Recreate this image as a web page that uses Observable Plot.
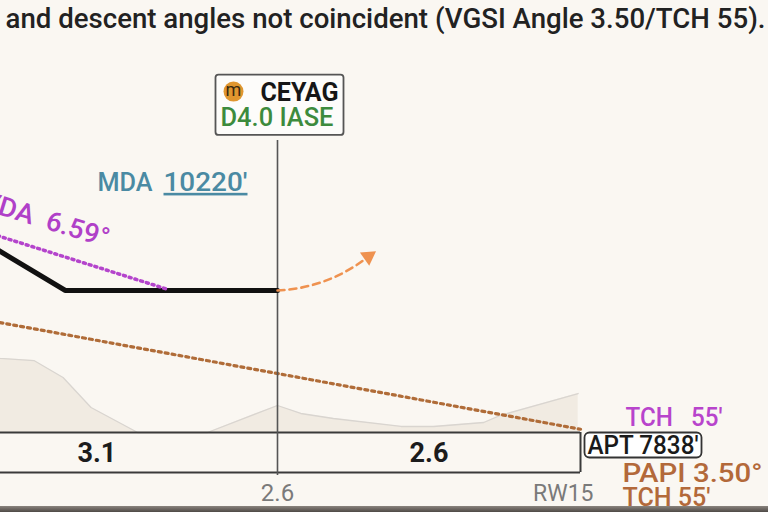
<!DOCTYPE html>
<html><head><meta charset="utf-8">
<script src="https://cdn.jsdelivr.net/npm/d3@7"></script>
<script src="https://cdn.jsdelivr.net/npm/@observablehq/plot@0.6"></script>
<style>
html,body{margin:0;padding:0;background:#faf7f2;overflow:hidden}
svg{display:block}
#band{height:6px;background:linear-gradient(#8a847e,#4f4a46)}
</style></head><body><div id="chart"></div><div id="band"></div>
<script>
// ---- data (distances in NM from runway threshold, altitudes in ft) ----
const titleText = "and descent angles not coincident (VGSI Angle 3.50/TCH 55).";
const descentDist = [5.0, 4.42, 2.6];
const descentAlt  = [10900, 10220, 10220];
const vdaDist = [5.1, 3.56];
const vdaAlt  = [11200, 10250];
const papiDist = [5.1, 0];
const papiAlt  = [9725, 7893];
const terrainDist = [5.1, 4.98, 4.69, 4.44, 4.20, 3.80, 3.20, 2.60, 2.40, 2.12, 1.54, 1.26, 0.83, 0.69, 0.02];
const terrainAlt  = [9100, 9080, 9045, 8760, 8257, 7838, 7838, 8291, 8157, 8073, 7939, 7939, 8006, 8123, 8492];
const segFrom = [5.7, 2.6];
const segTo   = [2.6, 0];
const segLabels = ["3.1", "2.6"];
const fixName = "CEYAG";
const fixDist = 2.6;
const fixTopAlt = 12735;
const fixDme = "D4.0 IASE";
const fixLabel = "2.6";
const mda = 10220;
const vdaAngle = "6.59°";
const aptElev = 7838;
const tch = 55;
const papiAngle = "3.50°";
const runwayName = "RW15";
const missedDist = [2.6, 1.82];
const missedAlt  = [10220, 10790];

const font = "Roboto, 'Open Sans', sans-serif";
const nb = "\u00a0";

const descent = descentDist.map((d, i) => ({d, alt: descentAlt[i]}));
const vda = vdaDist.map((d, i) => ({d, alt: vdaAlt[i]}));
const papi = papiDist.map((d, i) => ({d, alt: papiAlt[i]}));
const terrain = terrainDist.map((d, i) => ({d, alt: terrainAlt[i]}));
const segs = segLabels.map((label, i) => ({label, mid: (segFrom[i] + segTo[i]) / 2}));
const missed = [{x1: missedDist[0], y1: missedAlt[0], x2: missedDist[1], y2: missedAlt[1]}];

const vdaText = "VDA" + nb + nb + vdaAngle;
const mdaText = mda + "'";
const tchPurple = "TCH" + nb + nb + nb + tch + "'";
const aptText = "APT " + aptElev + "'";
const papiText = "PAPI " + papiAngle;
const tchBrown = "TCH " + tch + "'";

const vdaLabelD = 4.59;
const vdaLabelAlt = vdaAlt[0] + (vdaLabelD - vdaDist[0]) / (vdaDist[1] - vdaDist[0]) * (vdaAlt[1] - vdaAlt[0]);

const chart = Plot.plot({
  width: 768, height: 506,
  marginTop: 0, marginRight: 0, marginBottom: 0, marginLeft: 0,
  x: {domain: [2.6, 0], range: [277, 580], axis: null},
  y: {domain: [7838, 10220], range: [432, 290], axis: null},
  style: {background: "#faf7f2", fontFamily: font, overflow: "hidden"},
  marks: [
    Plot.areaY(terrain, {x: "d", y1: () => aptElev, y2: "alt", fill: "#f1ebe2"}),
    Plot.line(terrain, {x: "d", y: "alt", stroke: "#d9d5d0", strokeWidth: 1.3}),
    Plot.line(papi, {x: "d", y: "alt", stroke: "#b06c38", strokeWidth: 3.2, strokeDasharray: "3,4"}),
    // distance bar
    Plot.ruleY([aptElev], {x1: () => 6, x2: () => 0, stroke: "#3a3a3a", strokeWidth: 2}),
    Plot.ruleY([aptElev], {x1: () => 6, x2: () => 0, dy: 40, stroke: "#3a3a3a", strokeWidth: 2}),
    Plot.ruleX([0], {y1: () => aptElev, y2: () => aptElev, insetBottom: -40, stroke: "#3a3a3a", strokeWidth: 2}),
    Plot.ruleX([fixDist], {y1: () => fixTopAlt, y2: () => aptElev, insetBottom: -43, stroke: "#555", strokeWidth: 1.6}),
    Plot.text(segs, {x: "mid", y: () => aptElev, dy: 21, text: "label", fontSize: 27, fontWeight: "bold", fill: "#1c1c1c"}),
    // paths
    Plot.line(descent, {x: "d", y: "alt", stroke: "#111", strokeWidth: 5, strokeLinejoin: "miter"}),
    Plot.line(vda, {x: "d", y: "alt", stroke: "#b444cc", strokeWidth: 3.5, strokeDasharray: "2,4"}),
    Plot.arrow(missed, {x1: "x1", y1: "y1", x2: "x2", y2: "y2", bend: -18, headLength: 0, stroke: "#ef9250", strokeWidth: 2.6, strokeDasharray: "7,5"}),
    Plot.dot(missed, {x: "x2", y: "y2", symbol: "triangle", r: 6, rotate: 55, fill: "#ef9250", stroke: null}),
    // labels
    Plot.text([titleText], {frameAnchor: "top-left", dx: 5, dy: 19, lineAnchor: "middle", textAnchor: "start", fontSize: 27, fontWeight: 500, fill: "#222"}),
    Plot.text([vdaText], {x: () => vdaLabelD, y: () => vdaLabelAlt, dy: -31, rotate: 17, fontSize: 27, fontWeight: 500, fill: "#b040c8"}),
    Plot.text(["MDA"], {x: () => fixDist, y: () => mda, dx: -125, dy: -108, textAnchor: "end", fontSize: 26, fontWeight: 500, fill: "#4a8aa3"}),
    Plot.text([mdaText], {x: () => fixDist, y: () => mda, dx: -114, dy: -108, textAnchor: "start", fontSize: 26, fontWeight: 500, fill: "#4a8aa3", ariaLabel: () => "mda-value"}),
    Plot.dot([fixDist], {x: d => d, y: () => fixTopAlt, dx: -44, dy: -49, r: 10, fill: "#e0962f", ariaLabel: () => "fixlabel"}),
    Plot.text(["m"], {x: () => fixDist, y: () => fixTopAlt, dx: -44, dy: -50, fontSize: 18, fill: "#3a2a10", ariaLabel: () => "fixlabel"}),
    Plot.text([fixName], {x: () => fixDist, y: () => fixTopAlt, dx: -17, dy: -48, textAnchor: "start", fontSize: 25, fontWeight: "bold", fill: "#161616", ariaLabel: () => "fixlabel"}),
    Plot.text([fixDme], {x: () => fixDist, y: () => fixTopAlt, dx: -57, dy: -23, textAnchor: "start", fontSize: 26, fontWeight: 500, fill: "#3d8b3d", ariaLabel: () => "fixlabel"}),
    Plot.text([fixLabel], {x: () => fixDist, y: () => aptElev, dy: 61, fontSize: 24, fill: "#7a7a7a"}),
    Plot.text([runwayName], {x: () => 0, y: () => aptElev, dx: 13, dy: 61, textAnchor: "end", fontSize: 23, fill: "#7a7a7a"}),
    Plot.text([tchPurple], {x: () => 0, y: () => aptElev, dx: 45, dy: -15, textAnchor: "start", fontSize: 26, fontWeight: 500, fill: "#b844cc"}),
    Plot.text([aptText], {x: () => 0, y: () => aptElev, dx: 7, dy: 13, textAnchor: "start", fontSize: 25, fontWeight: 500, fill: "#1a1a1a", ariaLabel: () => "aptlabel"}),
    Plot.text([papiText], {x: () => 0, y: () => aptElev, dx: 42, dy: 41, textAnchor: "start", fontSize: 25, fontWeight: 500, fill: "#b3693a"}),
    Plot.text([tchBrown], {x: () => 0, y: () => aptElev, dx: 42, dy: 65, textAnchor: "start", fontSize: 25, fontWeight: 500, fill: "#b3693a"})
  ]
});
document.getElementById("chart").append(chart);

// text widths as seen in the reference (the original type is wider than Roboto)
const textWidths = new Map([
  [titleText, 760], [fixName, 78], [fixDme, 113], ["MDA", 55], [mdaText, 84],
  [vdaText, 132], [tchPurple, 97], [aptText, 111], [papiText, 140], [tchBrown, 88]
]);
chart.querySelectorAll("text").forEach(t => {
  const w = textWidths.get(t.textContent);
  if (w) { t.setAttribute("textLength", w); t.setAttribute("lengthAdjust", "spacingAndGlyphs"); }
});

// decorations: boxes behind fix label and airport elevation, underline MDA value
const NS = "http://www.w3.org/2000/svg";
function boxAround(sel, pad, attrs) {
  const els = chart.querySelectorAll(sel);
  if (!els.length) return;
  const s = chart.getBoundingClientRect();
  let x0 = Infinity, y0 = Infinity, x1 = -Infinity, y1 = -Infinity;
  els.forEach(e => { const b = e.getBoundingClientRect(); x0 = Math.min(x0, b.left); y0 = Math.min(y0, b.top); x1 = Math.max(x1, b.right); y1 = Math.max(y1, b.bottom); });
  const r = document.createElementNS(NS, "rect");
  r.setAttribute("x", x0 - s.left - pad[0]); r.setAttribute("y", y0 - s.top - pad[1]);
  r.setAttribute("width", x1 - x0 + 2 * pad[0]); r.setAttribute("height", y1 - y0 + 2 * pad[1]);
  for (const k in attrs) r.setAttribute(k, attrs[k]);
  let n = els[0];
  while (n.parentNode && n.parentNode !== chart) n = n.parentNode;
  chart.insertBefore(r, n);
}
boxAround('[aria-label="fixlabel"]', [5, 3], {fill: "#fdfcfa", stroke: "#555", "stroke-width": 1.8, rx: 3});
boxAround('[aria-label="aptlabel"]', [3, -2], {fill: "#ffffff", stroke: "#333", "stroke-width": 1.8, rx: 5});
chart.querySelectorAll('[aria-label="mda-value"]').forEach(t => t.style.textDecoration = "underline");
</script></body></html>
